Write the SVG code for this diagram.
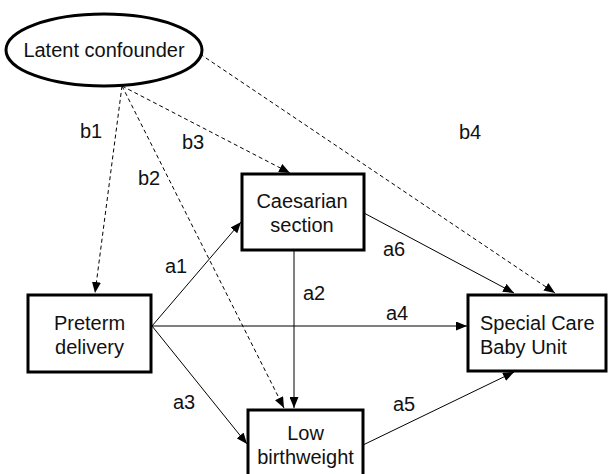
<svg xmlns="http://www.w3.org/2000/svg" width="608" height="474" viewBox="0 0 608 474">
  <style>
    .node { fill: #fff; stroke: #000; stroke-width: 3; }
    .t { font-family: "Liberation Sans", Arial, sans-serif; font-size: 20px; fill: #111; }
    .c { text-anchor: middle; }
    .edge { stroke: #000; stroke-width: 1; fill: none; marker-end: url(#arr); }
    .dash { stroke-dasharray: 4 3; }
  </style>
  <defs>
    <marker id="arr" markerUnits="userSpaceOnUse" markerWidth="11" markerHeight="9" refX="11" refY="4.5" orient="auto">
      <path d="M0,0 L11,4.5 L0,9 z" fill="#000"/>
    </marker>
  </defs>
  <rect width="608" height="474" fill="#fff"/>

  <g id="connectors">
    <line class="edge dash" x1="122" y1="86" x2="95" y2="293"/>
    <line class="edge dash" x1="122" y1="86" x2="284" y2="408"/>
    <line class="edge dash" x1="122" y1="86" x2="290" y2="173"/>
    <line class="edge dash" x1="200" y1="54" x2="555" y2="293"/>
    <line class="edge" x1="152" y1="326" x2="241" y2="222"/>
    <line class="edge" x1="152" y1="326" x2="247" y2="444"/>
    <line class="edge" x1="152" y1="326" x2="467" y2="326"/>
    <line class="edge" x1="294" y1="251" x2="294" y2="408"/>
    <line class="edge" x1="363" y1="445" x2="514" y2="372"/>
    <line class="edge" x1="364" y1="213" x2="514" y2="293"/>
    <g class="t">
      <text x="80" y="138">b1</text>
      <text x="138" y="185">b2</text>
      <text x="182" y="149">b3</text>
      <text x="459" y="139">b4</text>
      <text x="165" y="273">a1</text>
      <text x="303" y="300">a2</text>
      <text x="173" y="409">a3</text>
      <text x="386" y="320">a4</text>
      <text x="393" y="411">a5</text>
      <text x="383" y="256">a6</text>
    </g>
  </g>

  <g id="latent">
    <ellipse class="node" cx="104" cy="50" rx="98" ry="36"/>
    <text class="t c" x="104" y="57">Latent confounder</text>
  </g>
  <g id="preterm">
    <rect class="node" x="28" y="295" width="123" height="77"/>
    <text class="t c" x="89.5" y="330">Preterm</text>
    <text class="t c" x="89.5" y="354">delivery</text>
  </g>
  <g id="caesarian">
    <rect class="node" x="242" y="174" width="122" height="76"/>
    <text class="t c" x="302" y="208">Caesarian</text>
    <text class="t c" x="302" y="232">section</text>
  </g>
  <g id="lowbw">
    <rect class="node" x="248" y="410" width="115" height="77"/>
    <text class="t c" x="305.5" y="440">Low</text>
    <text class="t c" x="305.5" y="464">birthweight</text>
  </g>
  <g id="scbu">
    <rect class="node" x="468" y="295" width="138" height="76"/>
    <text class="t" x="480" y="330">Special Care</text>
    <text class="t" x="480" y="354">Baby Unit</text>
  </g>
</svg>
